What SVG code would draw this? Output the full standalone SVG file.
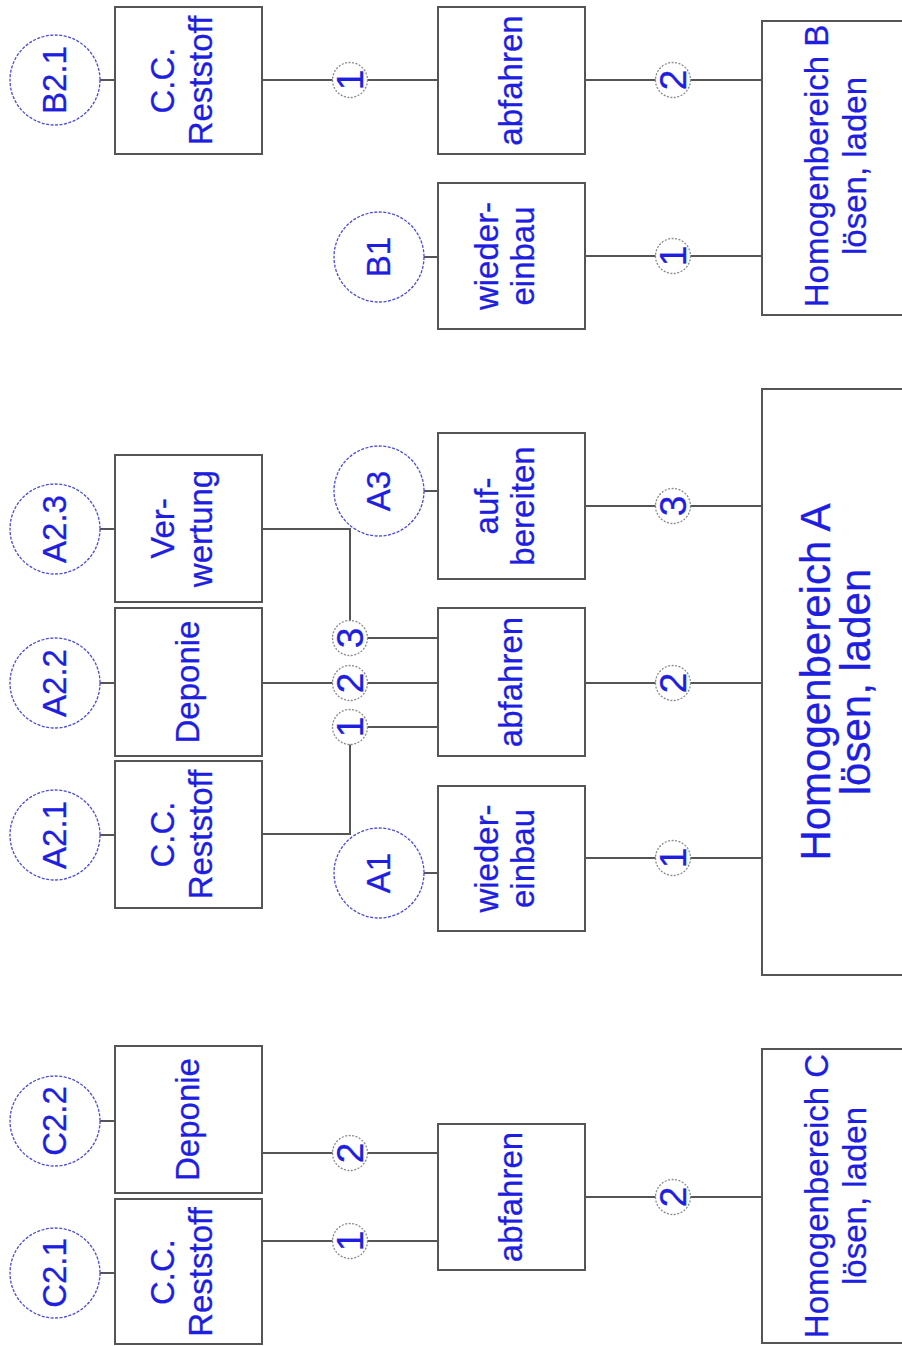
<svg xmlns="http://www.w3.org/2000/svg" width="902" height="1346" viewBox="0 0 902 1346">
  <style>
    .box { fill: #ffffff; stroke: #555555; stroke-width: 2; }
    .wire { fill: none; stroke: #555555; stroke-width: 2; }
    .tag { fill: #ffffff; stroke: #4b4bd6; stroke-width: 1.3; stroke-dasharray: 3 1.5; }
    .num { fill: #ffffff; stroke: #8a8a8a; stroke-width: 1.3; stroke-dasharray: 2 1.5; }
    text { font-family: "Liberation Sans", Arial, sans-serif; fill: #1e1ee0; text-anchor: middle; stroke: #1e1ee0; stroke-width: 0.3; }
    .lbl { font-size: 33px; }
    .big { font-size: 42px; }
    .digit { font-size: 37px; }
  </style>

  <!-- connectors -->
  <g id="connectors">
    <!-- area B -->
    <path class="wire" d="M100 80 H115 M262 80 H438 M585 80 H762"/>
    <path class="wire" d="M424 257 H438 M585 256 H762"/>
    <!-- area A -->
    <path class="wire" d="M100 529 H115 M262 529 H350 V638 H438"/>
    <path class="wire" d="M424 491 H438 M585 506 H762"/>
    <path class="wire" d="M100 683 H115 M262 683 H438 M585 683 H762"/>
    <path class="wire" d="M100 835 H115 M262 834 H350 V727 H438"/>
    <path class="wire" d="M424 873 H438 M585 858 H762"/>
    <!-- area C -->
    <path class="wire" d="M100 1121 H115 M262 1153 H438"/>
    <path class="wire" d="M100 1273 H115 M262 1241 H438"/>
    <path class="wire" d="M585 1197 H762"/>
  </g>

  <!-- sequence numbers on the connectors -->
  <g id="step-numbers">
    <g transform="translate(350 80)"><circle class="num" r="17.5"/><text class="digit" transform="rotate(-90)" y="13">1</text></g>
    <g transform="translate(673 80)"><circle class="num" r="17.5"/><text class="digit" transform="rotate(-90)" y="13">2</text></g>
    <g transform="translate(673 256)"><circle class="num" r="17.5"/><text class="digit" transform="rotate(-90)" y="13">1</text></g>
    <g transform="translate(350 638)"><circle class="num" r="17.5"/><text class="digit" transform="rotate(-90)" y="13">3</text></g>
    <g transform="translate(350 683)"><circle class="num" r="17.5"/><text class="digit" transform="rotate(-90)" y="13">2</text></g>
    <g transform="translate(350 727)"><circle class="num" r="17.5"/><text class="digit" transform="rotate(-90)" y="13">1</text></g>
    <g transform="translate(673 506)"><circle class="num" r="17.5"/><text class="digit" transform="rotate(-90)" y="13">3</text></g>
    <g transform="translate(673 683)"><circle class="num" r="17.5"/><text class="digit" transform="rotate(-90)" y="13">2</text></g>
    <g transform="translate(673 858)"><circle class="num" r="17.5"/><text class="digit" transform="rotate(-90)" y="13">1</text></g>
    <g transform="translate(350 1153)"><circle class="num" r="17.5"/><text class="digit" transform="rotate(-90)" y="13">2</text></g>
    <g transform="translate(350 1241)"><circle class="num" r="17.5"/><text class="digit" transform="rotate(-90)" y="13">1</text></g>
    <g transform="translate(673 1197)"><circle class="num" r="17.5"/><text class="digit" transform="rotate(-90)" y="13">2</text></g>
  </g>

  <!-- area B -->
  <g id="tag-B2.1" transform="translate(55 80)"><circle class="tag" r="45"/><text class="lbl" transform="rotate(-90)" y="11">B2.1</text></g>
  <g id="node-B-reststoff">
    <rect class="box" x="115" y="7" width="147" height="147"/>
    <text class="lbl" transform="translate(188.5 80.5) rotate(-90)"><tspan x="0" y="-15">C.C.</tspan><tspan x="0" y="23">Reststoff</tspan></text>
  </g>
  <g id="node-B-abfahren">
    <rect class="box" x="438" y="7" width="147" height="147"/>
    <text class="lbl" transform="translate(511.5 80.5) rotate(-90)" y="10">abfahren</text>
  </g>
  <g id="tag-B1" transform="translate(379 257)"><circle class="tag" r="45"/><text class="lbl" transform="rotate(-90)" y="11">B1</text></g>
  <g id="node-B-wiedereinbau">
    <rect class="box" x="438" y="183" width="147" height="146"/>
    <text class="lbl" transform="translate(511.5 256) rotate(-90)"><tspan x="0" y="-14">wieder-</tspan><tspan x="0" y="22">einbau</tspan></text>
  </g>
  <g id="node-B-homogenbereich">
    <rect class="box" x="762" y="21" width="150" height="294"/>
    <text class="lbl" transform="translate(800 166) rotate(-90)"><tspan x="0" y="28">Homogenbereich B</tspan><tspan x="0" y="66">lösen, laden</tspan></text>
  </g>

  <!-- area A -->
  <g id="tag-A2.3" transform="translate(55 529)"><circle class="tag" r="45"/><text class="lbl" transform="rotate(-90)" y="11">A2.3</text></g>
  <g id="node-A-verwertung">
    <rect class="box" x="115" y="455" width="147" height="147"/>
    <text class="lbl" transform="translate(188.5 528.5) rotate(-90)"><tspan x="0" y="-15">Ver-</tspan><tspan x="0" y="23">wertung</tspan></text>
  </g>
  <g id="tag-A2.2" transform="translate(55 683)"><circle class="tag" r="45"/><text class="lbl" transform="rotate(-90)" y="11">A2.2</text></g>
  <g id="node-A-deponie">
    <rect class="box" x="115" y="608" width="147" height="148"/>
    <text class="lbl" transform="translate(188.5 682) rotate(-90)" y="10">Deponie</text>
  </g>
  <g id="tag-A2.1" transform="translate(55 835)"><circle class="tag" r="45"/><text class="lbl" transform="rotate(-90)" y="11">A2.1</text></g>
  <g id="node-A-reststoff">
    <rect class="box" x="115" y="761" width="147" height="147"/>
    <text class="lbl" transform="translate(188.5 834.5) rotate(-90)"><tspan x="0" y="-15">C.C.</tspan><tspan x="0" y="23">Reststoff</tspan></text>
  </g>
  <g id="tag-A3" transform="translate(379 491)"><circle class="tag" r="45"/><text class="lbl" transform="rotate(-90)" y="11">A3</text></g>
  <g id="node-A-aufbereiten">
    <rect class="box" x="438" y="433" width="147" height="146"/>
    <text class="lbl" transform="translate(511.5 506) rotate(-90)"><tspan x="0" y="-14">auf-</tspan><tspan x="0" y="22">bereiten</tspan></text>
  </g>
  <g id="node-A-abfahren">
    <rect class="box" x="438" y="608" width="147" height="148"/>
    <text class="lbl" transform="translate(511.5 682) rotate(-90)" y="10">abfahren</text>
  </g>
  <g id="tag-A1" transform="translate(379 873)"><circle class="tag" r="45"/><text class="lbl" transform="rotate(-90)" y="11">A1</text></g>
  <g id="node-A-wiedereinbau">
    <rect class="box" x="438" y="786" width="147" height="145"/>
    <text class="lbl" transform="translate(511.5 858.5) rotate(-90)"><tspan x="0" y="-14">wieder-</tspan><tspan x="0" y="22">einbau</tspan></text>
  </g>
  <g id="node-A-homogenbereich">
    <rect class="box" x="762" y="389" width="150" height="586"/>
    <text class="big" transform="translate(800 682) rotate(-90)"><tspan x="0" y="30">Homogenbereich A</tspan><tspan x="0" y="70">lösen, laden</tspan></text>
  </g>

  <!-- area C -->
  <g id="tag-C2.2" transform="translate(55 1121)"><circle class="tag" r="45"/><text class="lbl" transform="rotate(-90)" y="11">C2.2</text></g>
  <g id="node-C-deponie">
    <rect class="box" x="115" y="1046" width="147" height="147"/>
    <text class="lbl" transform="translate(188.5 1119.5) rotate(-90)" y="10">Deponie</text>
  </g>
  <g id="tag-C2.1" transform="translate(55 1273)"><circle class="tag" r="45"/><text class="lbl" transform="rotate(-90)" y="11">C2.1</text></g>
  <g id="node-C-reststoff">
    <rect class="box" x="115" y="1199" width="147" height="145"/>
    <text class="lbl" transform="translate(188.5 1272) rotate(-90)"><tspan x="0" y="-15">C.C.</tspan><tspan x="0" y="23">Reststoff</tspan></text>
  </g>
  <g id="node-C-abfahren">
    <rect class="box" x="438" y="1124" width="147" height="146"/>
    <text class="lbl" transform="translate(511.5 1197) rotate(-90)" y="10">abfahren</text>
  </g>
  <g id="node-C-homogenbereich">
    <rect class="box" x="762" y="1049" width="150" height="294"/>
    <text class="lbl" transform="translate(800 1196) rotate(-90)"><tspan x="0" y="28">Homogenbereich C</tspan><tspan x="0" y="66">lösen, laden</tspan></text>
  </g>
</svg>
